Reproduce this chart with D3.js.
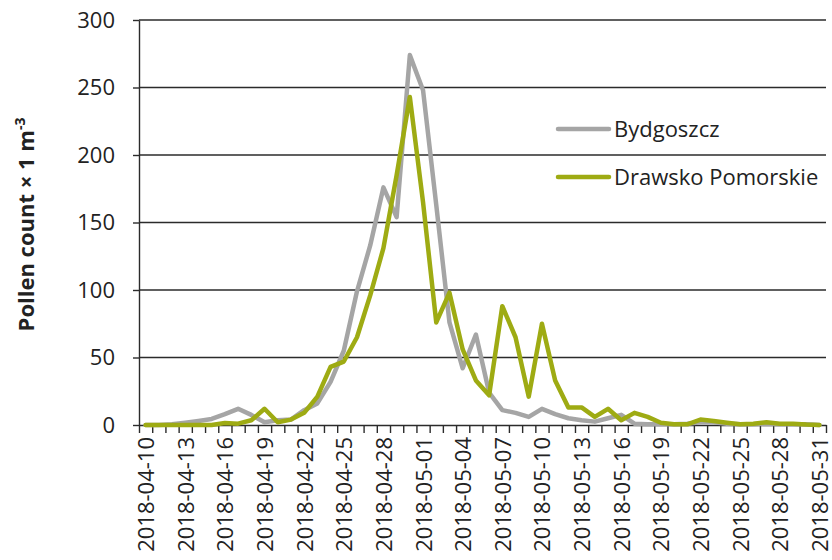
<!DOCTYPE html>
<html>
<head>
<meta charset="utf-8">
<script src="https://cdn.jsdelivr.net/npm/d3@7"></script>
<style>
  html, body { margin: 0; padding: 0; background: #fff; }
  svg { display: block; }
</style>
</head>
<body>
<svg id="chart" width="832" height="560"></svg>
<script>
const dates = [
  "2018-04-10","2018-04-11","2018-04-12","2018-04-13","2018-04-14","2018-04-15","2018-04-16",
  "2018-04-17","2018-04-18","2018-04-19","2018-04-20","2018-04-21","2018-04-22","2018-04-23",
  "2018-04-24","2018-04-25","2018-04-26","2018-04-27","2018-04-28","2018-04-29","2018-04-30",
  "2018-05-01","2018-05-02","2018-05-03","2018-05-04","2018-05-05","2018-05-06","2018-05-07",
  "2018-05-08","2018-05-09","2018-05-10","2018-05-11","2018-05-12","2018-05-13","2018-05-14",
  "2018-05-15","2018-05-16","2018-05-17","2018-05-18","2018-05-19","2018-05-20","2018-05-21",
  "2018-05-22","2018-05-23","2018-05-24","2018-05-25","2018-05-26","2018-05-27","2018-05-28",
  "2018-05-29","2018-05-30","2018-05-31"
];
const tickLabels = [
  "2018-04-10","2018-04-13","2018-04-16","2018-04-19","2018-04-22","2018-04-25","2018-04-28",
  "2018-05-01","2018-05-04","2018-05-07","2018-05-10","2018-05-13","2018-05-16","2018-05-19",
  "2018-05-22","2018-05-25","2018-05-28","2018-05-31"
];
const bydgoszcz = [
  0, 0, 0.5, 1.7, 3, 4.5, 8, 12, 7.5, 2, 3.5, 4, 11, 16, 32, 55, 99, 133, 176, 154, 274,
  248, 163, 76, 42, 67, 24, 11, 9, 6, 12, 8, 5, 3.5, 2.5, 5, 7.5, 1, 0.5, 0.5, 0.5,
  1, 2, 2, 1, 0.5, 0.5, 1, 0.5, 0.5, 0.5, 0
];
const drawsko = [
  0, 0, 0, 0, 0, 0, 1.5, 1, 3.5, 12, 2, 4, 9, 21, 43, 47, 65, 96, 131, 185, 243,
  165, 76, 98, 56, 33, 22, 88, 65, 21, 75, 33, 13, 13, 6, 12, 3.5, 9, 6, 1.7, 0.5,
  0.5, 4, 3, 1.7, 0.5, 1, 2, 1, 1, 0.3, 0
];
const yTicks = [0, 50, 100, 150, 200, 250, 300];
const seriesNames = ["Bydgoszcz", "Drawsko Pomorskie"];
const seriesColors = ["#A5A5A5", "#9EAB13"];

(function () {
const FONT = "'Open Sans', sans-serif";
const svg = d3.select("#chart");
const mL = 139, mR = 826, mT = 20, mB = 425;

const x = d3.scaleBand().domain(dates).range([mL, mR]).padding(0);
const xb = d3.scaleLinear().domain([0, dates.length]).range([mL, mR]);
const y = d3.scaleLinear().domain([0, 300]).range([mB, mT]);
const cx = d => x(d) + x.bandwidth() / 2;

// gridlines
svg.append("g").selectAll("line").data(yTicks.filter(v => v > 0)).join("line")
  .attr("x1", mL).attr("x2", mR)
  .attr("y1", d => y(d)).attr("y2", d => y(d))
  .attr("stroke", "#2b2b2b").attr("stroke-width", 1.4);

// y axis
const gy = svg.append("g").attr("transform", `translate(${mL},0)`)
  .call(d3.axisLeft(y).tickValues(yTicks).tickSize(6).tickPadding(18).tickSizeOuter(0));
gy.select(".domain").attr("stroke", "#2b2b2b").attr("stroke-width", 1.4);
gy.selectAll(".tick line").attr("stroke", "#2b2b2b").attr("stroke-width", 1.4);
gy.selectAll("text").attr("font-family", FONT).attr("font-size", 22).attr("fill", "#222");

// x axis tick marks at category boundaries
const gxt = svg.append("g").attr("transform", `translate(0,${mB})`)
  .call(d3.axisBottom(xb).tickValues(d3.range(dates.length + 1)).tickFormat("").tickSize(8).tickSizeOuter(0));
gxt.select(".domain").attr("stroke", "#2b2b2b").attr("stroke-width", 1.4);
gxt.selectAll(".tick line").attr("stroke", "#2b2b2b").attr("stroke-width", 1.4);

// x axis labels
const gx = svg.append("g").attr("transform", `translate(0,${mB})`)
  .call(d3.axisBottom(x).tickValues(tickLabels).tickSize(0).tickSizeOuter(0));
gx.select(".domain").remove();
gx.selectAll("text")
  .attr("font-family", FONT).attr("font-size", 22).attr("fill", "#222")
  .attr("transform", "rotate(-90)")
  .attr("text-anchor", "end")
  .attr("x", -12).attr("y", 1).attr("dy", "0.34em");

// lines
const line = d3.line().x((d, i) => cx(dates[i])).y(d => y(d));
[bydgoszcz, drawsko].forEach((s, k) => {
  svg.append("path").datum(s)
    .attr("d", line)
    .attr("fill", "none")
    .attr("stroke", seriesColors[k])
    .attr("stroke-width", 4.5)
    .attr("stroke-linejoin", "round")
    .attr("stroke-linecap", "round");
});

// legend
const legY = [129, 177];
seriesNames.forEach((n, k) => {
  svg.append("line")
    .attr("x1", 558).attr("x2", 609)
    .attr("y1", legY[k]).attr("y2", legY[k])
    .attr("stroke", seriesColors[k]).attr("stroke-width", 4.5).attr("stroke-linecap", "round");
  svg.append("text")
    .attr("x", 614).attr("y", legY[k]).attr("dy", "0.35em")
    .attr("font-family", FONT).attr("font-size", 22).attr("fill", "#222")
    .text(n);
});

// y title
const t = svg.append("text")
  .attr("transform", `translate(34,${(mT + mB) / 2 + 2}) rotate(-90)`)
  .attr("text-anchor", "middle")
  .attr("font-family", FONT).attr("font-size", 22).attr("font-weight", "bold").attr("fill", "#222");
t.append("tspan").text("Pollen count × 1 m");
t.append("tspan").attr("font-size", 14).attr("dy", -9).text("-3");
})();
</script>
</body>
</html>
